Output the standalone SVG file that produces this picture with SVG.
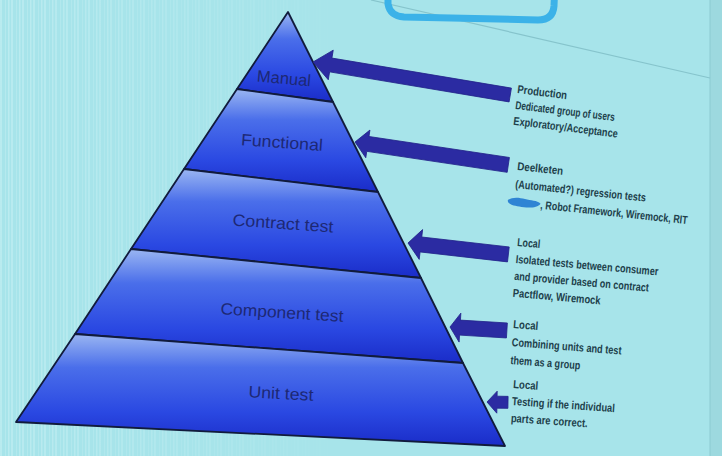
<svg xmlns="http://www.w3.org/2000/svg" width="722" height="456" viewBox="0 0 722 456">
<defs>
<style>
.layer{stroke:#111b3c;stroke-width:1.8;stroke-linejoin:round;fill:url(#layerGrad)}
.lbl{font-family:"Liberation Sans","DejaVu Sans",sans-serif;font-size:16.5px;fill:#1d2874;text-anchor:middle}
.arrow{fill:#2b2ba2;stroke:#23238a;stroke-width:0.8}
.note{font-family:"Liberation Sans","DejaVu Sans",sans-serif;font-size:11.5px;font-weight:bold;fill:#20404a}
</style>
<linearGradient id="layerGrad" x1="0" y1="0" x2="0" y2="1">
<stop offset="0" stop-color="#9ab6f2"/>
<stop offset="0.3" stop-color="#4a6eea"/>
<stop offset="0.7" stop-color="#2a48e2"/>
<stop offset="1" stop-color="#1a2cc8"/>
</linearGradient>
<linearGradient id="fadeGrad" x1="0" y1="0" x2="1" y2="0">
<stop offset="0" stop-color="#fff" stop-opacity="1"/>
<stop offset="1" stop-color="#fff" stop-opacity="0"/>
</linearGradient>
<mask id="fadeMask"><rect x="0" y="0" width="340" height="456" fill="url(#fadeGrad)"/></mask>
<pattern id="streak" width="11" height="456" patternUnits="userSpaceOnUse">
<rect x="0" y="0" width="2" height="456" fill="#e2fafb"/>
<rect x="5" y="0" width="1" height="456" fill="#d4f4f6"/>
<rect x="8" y="0" width="1.5" height="456" fill="#eafcfc"/>
</pattern>
</defs>

<rect x="0" y="0" width="722" height="456" fill="#a7e4ea"/>
<rect x="0" y="0" width="340" height="456" fill="url(#streak)" opacity="0.3" mask="url(#fadeMask)"/>
<rect x="710" y="0" width="12" height="456" fill="#9dd9df"/>
<line x1="710" y1="0" x2="710" y2="456" stroke="#8ccbd2" stroke-width="1"/>
<line x1="371" y1="0" x2="710" y2="78" stroke="#86c4cc" stroke-width="1.2"/>
<path d="M388,-20 L388,4 Q390,16 404,17 L538,20 Q553,20 554,6 L555,-20" fill="none" stroke="#3bb2e8" stroke-width="7"/>

<g id="layer-manual">
<polygon class="layer" points="288,12 333,102 237,89"/>
<text class="lbl" x="284" y="84" font-size="15" fill="#2c3690" transform="rotate(5 284 79)">Manual</text>
</g>
<g id="layer-functional">
<polygon class="layer" points="237,89 333,102 378,192 184,169"/>
<text class="lbl" x="282" y="148" textLength="82" lengthAdjust="spacingAndGlyphs" transform="rotate(4 282 142)">Functional</text>
</g>
<g id="layer-contract">
<polygon class="layer" points="184,169 378,192 421,278 131,249"/>
<text class="lbl" x="283" y="229" textLength="101" lengthAdjust="spacingAndGlyphs" transform="rotate(4 283 223)">Contract test</text>
</g>
<g id="layer-component">
<polygon class="layer" points="131,249 421,278 463,363 75,334"/>
<text class="lbl" x="282" y="318" textLength="123" lengthAdjust="spacingAndGlyphs" transform="rotate(3.5 282 312)">Component test</text>
</g>
<g id="layer-unit">
<polygon class="layer" points="75,334 463,363 505,446 16,422"/>
<text class="lbl" x="281" y="399" textLength="65" lengthAdjust="spacingAndGlyphs" transform="rotate(3 281 393)">Unit test</text>
</g>

<g id="connectors">
<polygon class="arrow" transform="translate(313,62) rotate(9.5)" points="0,0 18,-15 18,-7 200,-7 200,7 18,7 18,15"/>
<polygon class="arrow" transform="translate(355,142) rotate(8.5)" points="0,0 13,-14 13,-7.5 155,-7.5 155,7.5 13,7.5 13,14"/>
<polygon class="arrow" transform="translate(408,243) rotate(6.5)" points="0,0 13,-15 13,-7.5 101,-7.5 101,7.5 13,7.5 13,15"/>
<polygon class="arrow" transform="translate(450,327) rotate(3.5)" points="0,0 10,-14.5 10,-7.5 57,-7.5 57,7.5 10,7.5 10,14.5"/>
<polygon class="arrow" transform="translate(487,402) rotate(1)" points="0,0 10,-11 10,-6 21,-6 21,6 10,6 10,11"/>
</g>

<g id="note-manual" transform="rotate(7 517 93)">
<text class="note" x="517" y="93" textLength="50" lengthAdjust="spacingAndGlyphs">Production</text>
<text class="note" x="517" y="109" textLength="100" lengthAdjust="spacingAndGlyphs">Dedicated group of users</text>
<text class="note" x="517" y="125" textLength="105" lengthAdjust="spacingAndGlyphs">Exploratory/Acceptance</text>
</g>
<g id="note-functional" transform="rotate(6 517 170)">
<text class="note" x="517" y="170" textLength="46" lengthAdjust="spacingAndGlyphs">Deelketen</text>
<text class="note" x="517" y="188" textLength="131" lengthAdjust="spacingAndGlyphs">(Automated?) regression tests</text>
<path d="M511,201 c4,-4 11,-4 17,-3 c6,1 12,0 16,3 c-3,5 -13,6 -21,5 c-6,0 -12,-1 -12,-5 z" fill="#2f84d4"/>
<text class="note" x="544" y="206" textLength="148" lengthAdjust="spacingAndGlyphs">, Robot Framework, Wiremock, RIT</text>
</g>
<g id="note-contract" transform="rotate(5 517 246)">
<text class="note" x="517" y="246" textLength="23" lengthAdjust="spacingAndGlyphs">Local</text>
<text class="note" x="517" y="263" textLength="143" lengthAdjust="spacingAndGlyphs">Isolated tests between consumer</text>
<text class="note" x="517" y="280" textLength="135" lengthAdjust="spacingAndGlyphs">and provider based on contract</text>
<text class="note" x="517" y="297" textLength="88" lengthAdjust="spacingAndGlyphs">Pactflow, Wiremock</text>
</g>
<g id="note-component" transform="rotate(4.5 513 328)">
<text class="note" x="513" y="328" textLength="25" lengthAdjust="spacingAndGlyphs">Local</text>
<text class="note" x="513" y="346" textLength="110" lengthAdjust="spacingAndGlyphs">Combining units and test</text>
<text class="note" x="513" y="364" textLength="70" lengthAdjust="spacingAndGlyphs">them as a group</text>
</g>
<g id="note-unit" transform="rotate(4 513 388)">
<text class="note" x="513" y="388" textLength="25" lengthAdjust="spacingAndGlyphs">Local</text>
<text class="note" x="513" y="405" textLength="103" lengthAdjust="spacingAndGlyphs">Testing if the individual</text>
<text class="note" x="513" y="422" textLength="77" lengthAdjust="spacingAndGlyphs">parts are correct.</text>
</g>
</svg>
